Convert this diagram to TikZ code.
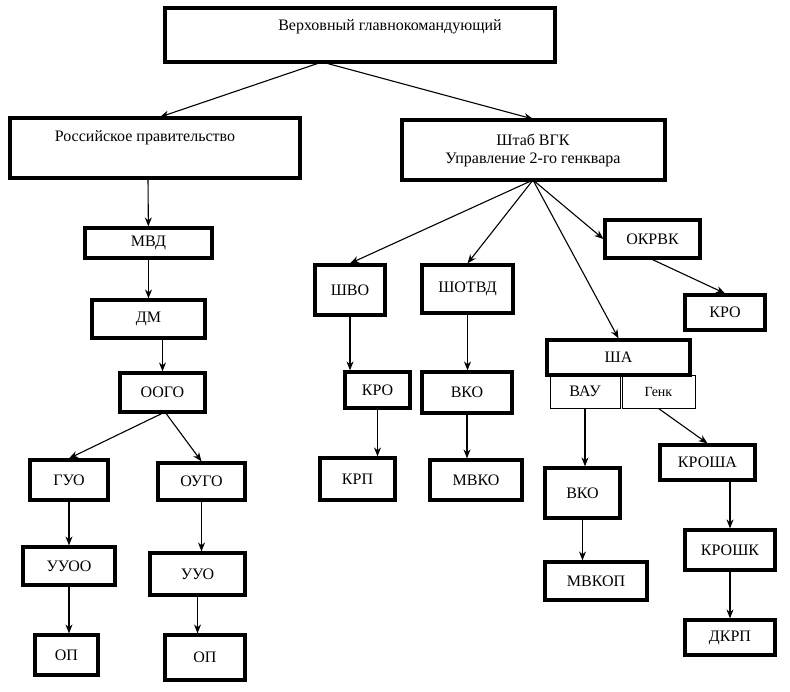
\documentclass[tikz,border=0pt]{standalone}
\usepackage{fontspec}
\setmainfont{Liberation Serif}
\usetikzlibrary{arrows.meta}
\begin{document}
\begin{tikzpicture}[x=1pt,y=-1pt,
 bx/.style={draw,line width=3.2pt,inner sep=0pt,font=\fontsize{16}{18}\selectfont},
 tb/.style={draw,line width=0.9pt,inner sep=0pt,font=\fontsize{16}{18}\selectfont},
 ar/.style={-{Stealth[length=9pt,width=7pt]},line width=1.1pt}]
\useasboundingbox (0,0) rectangle (790,691);
\newcommand\bb[5]{\node[bx,minimum width=#4-#2,minimum height=#5-#3] (#1) at ({(#2+#4)/2},{(#3+#5)/2}) {};}
\bb{top}{165}{8}{555}{62}
\node[font=\fontsize{16}{18}\selectfont] at (390,27) {Верховный главнокомандующий};
\bb{ros}{10}{118}{300}{178}
\node[font=\fontsize{16}{18}\selectfont] at (145,138) {Российское правительство};
\bb{sht}{402}{120}{665}{180}
\node[font=\fontsize{16}{18}\selectfont,align=center] at (533,150) {Штаб ВГК\\Управление 2-го генквара};
\bb{mvd}{85}{228}{212}{258} \node at (mvd) {\fontsize{16}{18}\selectfont МВД};
\bb{dm}{92}{300}{205}{338} \node at (dm) {\fontsize{16}{18}\selectfont ДМ};
\bb{oogo}{120}{373}{205}{412} \node at (oogo) {\fontsize{16}{18}\selectfont ООГО};
\bb{guo}{30}{460}{108}{500} \node at (guo) {\fontsize{16}{18}\selectfont ГУО};
\bb{ougo}{158}{463}{245}{500} \node at (ougo) {\fontsize{16}{18}\selectfont ОУГО};
\bb{uuoo}{23}{547}{115}{585} \node at (uuoo) {\fontsize{16}{18}\selectfont УУОО};
\bb{uuo}{150}{553}{245}{595} \node at (uuo) {\fontsize{16}{18}\selectfont УУО};
\bb{op1}{35}{635}{98}{675} \node at (op1) {\fontsize{16}{18}\selectfont ОП};
\bb{op2}{165}{635}{245}{680} \node at (op2) {\fontsize{16}{18}\selectfont ОП};
\bb{shvo}{315}{265}{385}{315} \node at (shvo) {\fontsize{16}{18}\selectfont ШВО};
\bb{shotvd}{422}{265}{513}{313} \node at (shotvd) {\fontsize{16}{18}\selectfont ШОТВД};
\bb{okrvk}{605}{220}{700}{258} \node at (okrvk) {\fontsize{16}{18}\selectfont ОКРВК};
\bb{kro2}{685}{295}{765}{330} \node at (kro2) {\fontsize{16}{18}\selectfont КРО};
\bb{kro1}{345}{372}{410}{408} \node at (kro1) {\fontsize{16}{18}\selectfont КРО};
\bb{vko1}{422}{372}{512}{413} \node at (vko1) {\fontsize{16}{18}\selectfont ВКО};
\bb{sha}{547}{340}{690}{375} \node at (sha) {\fontsize{16}{18}\selectfont ША};
\node[tb,minimum width=70,minimum height=33] (vau) at (585,391.5) {ВАУ};
\node[tb,minimum width=73,minimum height=33] (genk) at (658.5,391.5) {\fontsize{14}{16}\selectfont Генк};
\bb{krp}{320}{458}{395}{500} \node at (krp) {\fontsize{16}{18}\selectfont КРП};
\bb{mvko}{430}{460}{522}{500} \node at (mvko) {\fontsize{16}{18}\selectfont МВКО};
\bb{vko2}{545}{468}{620}{518} \node at (vko2) {\fontsize{16}{18}\selectfont ВКО};
\bb{krosha}{660}{445}{755}{480} \node at (krosha) {\fontsize{16}{18}\selectfont КРОША};
\bb{mvkop}{545}{562}{647}{600} \node at (mvkop) {\fontsize{16}{18}\selectfont МВКОП};
\bb{kroshk}{685}{530}{775}{570} \node at (kroshk) {\fontsize{16}{18}\selectfont КРОШК};
\bb{dkrp}{685}{620}{775}{655} \node at (dkrp) {\fontsize{16}{18}\selectfont ДКРП};
\coordinate (t1) at (322,62);
\coordinate (s1) at (533,180);
\coordinate (o1) at (165,412);
\draw[ar] (t1) -- (160,117);
\draw[ar] (t1) -- (533,119);
\draw[ar] (148,178) -- (mvd);
\draw[ar] (mvd) -- (dm);
\draw[ar] (dm.south -| oogo.north) -- (oogo.north);
\draw[ar] (o1) -- (guo.north);
\draw[ar] (o1) -- (ougo.north);
\draw[ar] (guo) -- (uuoo);
\draw[ar] (ougo.south) -- (uuo.north -| ougo.south);
\draw[ar] (uuoo) -- (op1.north -| uuoo.south);
\draw[ar] (uuo) -- (op2.north -| uuo.south);
\draw[ar] (s1) -- (shvo.north);
\draw[ar] (s1) -- (shotvd.north);
\draw[ar] (s1) -- (sha.north);
\draw[ar] (s1) -- (okrvk.west);
\draw[ar] (okrvk.south) -- (kro2.north);
\draw[ar] (shvo) -- (kro1.north -| shvo.south);
\draw[ar] (kro1) -- (krp.north -| kro1.south);
\draw[ar] (shotvd) -- (vko1.north -| shotvd.south);
\draw[ar] (vko1) -- (mvko.north -| vko1.south);
\draw[ar] (vau.south) -- (vau.south |- vko2.north);
\draw[ar] (genk.south) -- (krosha.north);
\draw[ar] (vko2.south) -- (vko2.south |- mvkop.north);
\draw[ar] (krosha.south -| kroshk.north) -- (kroshk.north);
\draw[ar] (kroshk) -- (dkrp);
\end{tikzpicture}
\end{document}
